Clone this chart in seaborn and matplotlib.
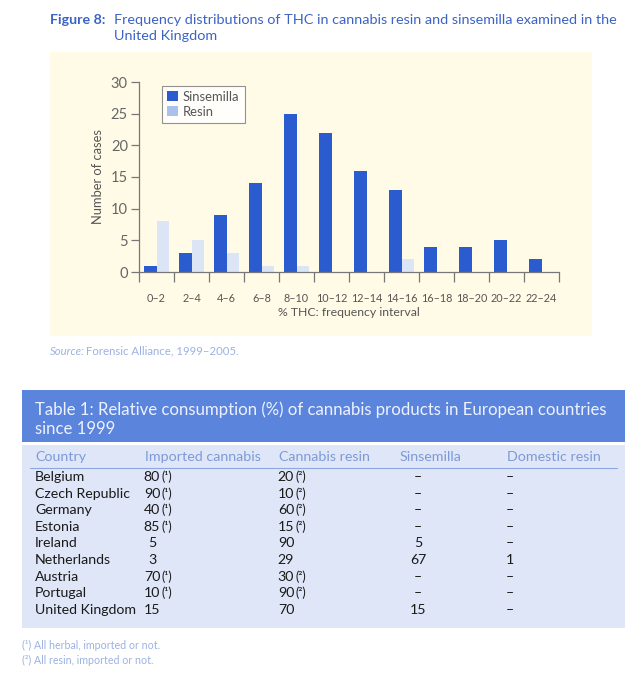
import matplotlib.pyplot as plt
import pandas as pd
import seaborn as sns
from matplotlib.patches import Patch, Rectangle

# figure 8 data
INTERVALS = ["0–2", "2–4", "4–6", "6–8", "8–10", "10–12", "12–14",
             "14–16", "16–18", "18–20", "20–22", "22–24"]
SINSEMILLA = [1, 3, 9, 14, 25, 22, 16, 13, 4, 4, 5, 2]
RESIN = [8, 5, 3, 1, 1, 0, 0, 2, 0, 0, 0, 0]
Y_TICKS = [0, 5, 10, 15, 20, 25, 30]

# table 1 data
COLUMNS = ["Country", "Imported cannabis", "Cannabis resin", "Sinsemilla", "Domestic resin"]
COUNTRIES = ["Belgium", "Czech Republic", "Germany", "Estonia", "Ireland",
             "Netherlands", "Austria", "Portugal", "United Kingdom"]
IMPORTED = ["80", "90", "40", "85", "5", "3", "70", "10", "15"]
IMPORTED_NOTE = ["(¹)", "(¹)", "(¹)", "(¹)", "", "", "(¹)", "(¹)", ""]
CANNABIS_RESIN = ["20", "10", "60", "15", "90", "29", "30", "90", "70"]
RESIN_NOTE = ["(²)", "(²)", "(²)", "(²)", "", "", "(²)", "(²)", ""]
SINSEMILLA_PCT = ["–", "–", "–", "–", "5", "67", "–", "–", "15"]
DOMESTIC_RESIN = ["–", "–", "–", "–", "–", "1", "–", "–", "–"]
FOOTNOTES = ["(¹) All herbal, imported or not.", "(²) All resin, imported or not."]

PALETTE = {"Sinsemilla": "#2a5cd0", "Resin": "#dbe5f6"}
LEGEND_COLORS = {"Sinsemilla": "#2a5cd0", "Resin": "#a9c1ec"}
TITLE_BLUE = "#3b63c6"
PALE_BLUE = "#9cb2e2"

W, H = 632, 679


def fx(px):
    return px / W


def fy(py):
    return 1 - py / H


def add_box(x0, y0, x1, y1, color):
    fig.patches.append(Rectangle((fx(x0), fy(y1)), fx(x1) - fx(x0), fy(y0) - fy(y1),
                                 transform=fig.transFigure, facecolor=color,
                                 edgecolor="none", zorder=-5))


sns.set_style("ticks")
plt.rcParams["font.family"] = ["Lato", "DejaVu Sans"]

fig = plt.figure(figsize=(W / 100, H / 100), dpi=100)

# --- figure 8 -------------------------------------------------------------
fig.text(fx(50), fy(20), "Figure 8:", color=TITLE_BLUE, fontsize=10.3,
         fontweight="bold", va="center")
fig.text(fx(114), fy(28), "Frequency distributions of THC in cannabis resin and sinsemilla examined in the\nUnited Kingdom",
         color=TITLE_BLUE, fontsize=10.35, va="center", linespacing=1.3)

add_box(50, 52, 592, 336, "#fffbe7")

ax = fig.add_axes([fx(139), fy(272), fx(559) - fx(139), fy(82) - fy(272)])
ax.set_facecolor("none")

df = pd.DataFrame({
    "interval": INTERVALS * 2,
    "type": ["Sinsemilla"] * len(INTERVALS) + ["Resin"] * len(INTERVALS),
    "cases": SINSEMILLA + RESIN,
})
sns.barplot(data=df, x="interval", y="cases", hue="type", order=INTERVALS,
            hue_order=["Sinsemilla", "Resin"], palette=PALETTE, width=0.74,
            saturation=1, linewidth=0, legend=False, ax=ax)

ax.set_xlim(-0.5, len(INTERVALS) - 0.5)
ax.set_ylim(0, 30)
ax.set_yticks(Y_TICKS)
ax.set_xticks(range(len(INTERVALS)))
ax.set_xticklabels(INTERVALS)
ax.set_xticks([i - 0.5 for i in range(len(INTERVALS) + 1)], minor=True)
ax.tick_params(axis="x", which="major", length=0, pad=15, labelsize=7.8, labelcolor="#555555")
ax.tick_params(axis="x", which="minor", length=7, width=0.9, color="#777777", direction="out")
ax.tick_params(axis="y", length=6, width=0.9, color="#777777", labelsize=10.5,
               labelcolor="#666666", pad=2)
for side in ("top", "right"):
    ax.spines[side].set_visible(False)
for side in ("left", "bottom"):
    ax.spines[side].set_color("#777777")
    ax.spines[side].set_linewidth(0.9)

ax.set_xlabel("% THC: frequency interval", fontsize=8.8, color="#555555", labelpad=2)
ax.set_ylabel("Number of cases", fontsize=9.3, color="#555555", labelpad=5)

handles = [Patch(facecolor=LEGEND_COLORS[k], edgecolor="none", label=k) for k in ["Sinsemilla", "Resin"]]
leg = ax.legend(handles=handles, loc="upper left", bbox_to_anchor=(0.055, 0.98),
                fontsize=9.4, frameon=True, fancybox=False, handlelength=0.8,
                handleheight=0.8, handletextpad=0.4, borderpad=0.4,
                labelspacing=0.2, borderaxespad=0)
leg.get_frame().set_edgecolor("#777777")
leg.get_frame().set_linewidth(0.8)
for t in leg.get_texts():
    t.set_color("#555555")

fig.text(fx(50), fy(351), "Source:", color=PALE_BLUE, fontsize=8.2, style="italic", va="center")
fig.text(fx(86), fy(351), "Forensic Alliance, 1999–2005.", color=PALE_BLUE, fontsize=8.2, va="center")

# --- table 1 --------------------------------------------------------------
add_box(22, 390, 625, 442, "#5b84dc")
add_box(22, 445, 625, 628, "#dfe6f7")
fig.text(fx(35), fy(419), "Table 1: Relative consumption (%) of cannabis products in European countries\nsince 1999",
         color="#eef2ff", fontsize=12.1, va="center", linespacing=1.2)

col_x = [35, 145, 279, 400, 507]
for x, name in zip(col_x, COLUMNS):
    fig.text(fx(x), fy(457), name, color="#7d9ad8", fontsize=10.3, va="center")
fig.lines.append(plt.Line2D([fx(30), fx(617)], [fy(468), fy(468)],
                            transform=fig.transFigure, color="#8ea7de", linewidth=0.8))

row_y0, row_step = 477, 16.6
for i, country in enumerate(COUNTRIES):
    y = fy(row_y0 + i * row_step)
    kw = dict(color="#1a1a1a", fontsize=10.2, va="center")
    fig.text(fx(35), y, country, **kw)
    fig.text(fx(152), y, IMPORTED[i], ha="center", **kw)
    fig.text(fx(161), y, IMPORTED_NOTE[i], **{**kw, "fontsize": 9})
    fig.text(fx(286), y, CANNABIS_RESIN[i], ha="center", **kw)
    fig.text(fx(295), y, RESIN_NOTE[i], **{**kw, "fontsize": 9})
    fig.text(fx(418), y, SINSEMILLA_PCT[i], ha="center", **kw)
    fig.text(fx(510), y, DOMESTIC_RESIN[i], ha="center", **kw)

for j, note in enumerate(FOOTNOTES):
    fig.text(fx(22), fy(645 + j * 15), note, color=PALE_BLUE, fontsize=7.7, va="center")

fig.savefig("out.png", dpi=100)
